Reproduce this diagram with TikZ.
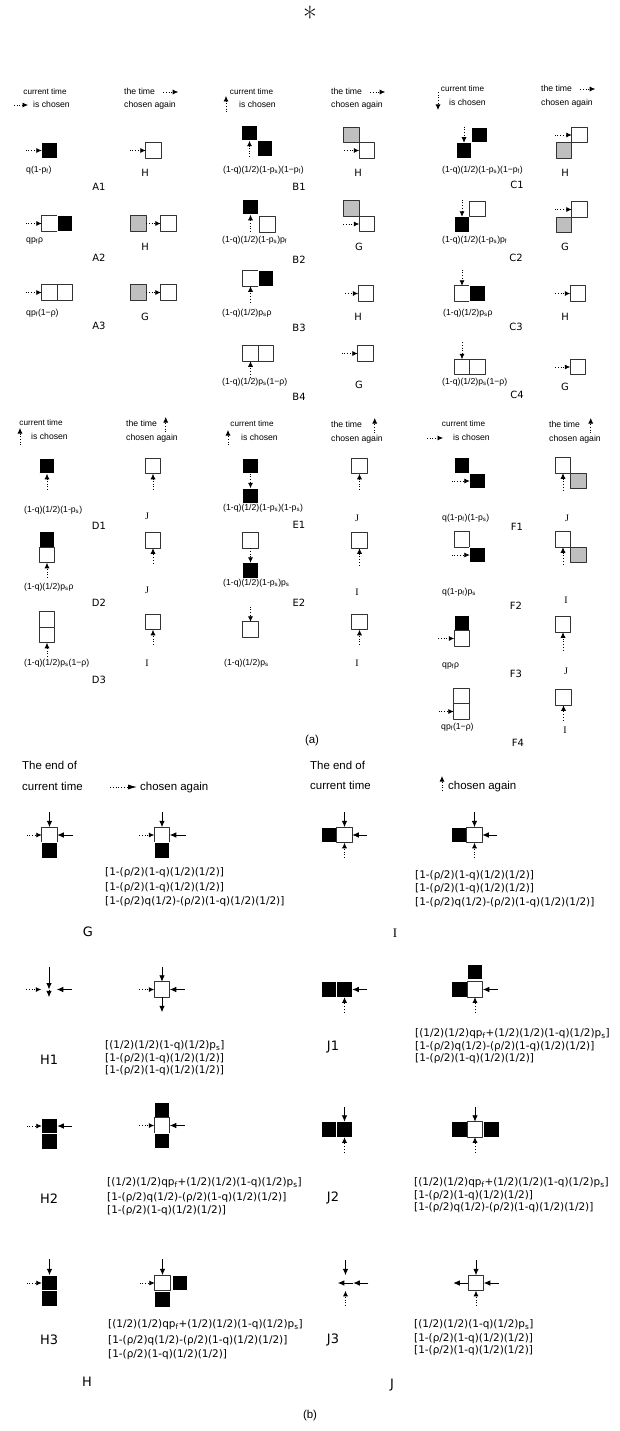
\documentclass[tikz,border=0pt]{standalone}
\usepackage{fontspec}
\usepackage{tikz}
\usetikzlibrary{positioning,arrows.meta}
\newfontfamily\arialf{Liberation Sans}
\newfontfamily\verdf{DejaVu Sans}
\newfontfamily\timesf{Liberation Serif}

\begin{document}
\begin{tikzpicture}[>={Latex[length=5.5bp,width=5bp]}, x=1bp, y=-1bp, line join=bevel,
  sq/.style={draw=black!80, line width=0.8bp, minimum size=15.5bp, inner sep=0pt, outer sep=0pt},
  blk/.style={sq, fill=black, draw=white, line width=0.6bp},
  wht/.style={sq, fill=white},
  gry/.style={sq, fill=black!25},
  darr/.style={->, dotted, line width=0.7bp},
  sarr/.style={-{Latex[length=6.5bp,width=5.5bp]}, line width=0.9bp},
  hdr/.style={font=\arialf\fontsize{8.2}{9}\selectfont, inner sep=0pt, text height=6bp, text depth=1.5bp},
  prb/.style={hdr, anchor=west, font=\arialf\fontsize{8.7}{9}\selectfont},
  tag/.style={font=\verdf\fontsize{10}{12}\selectfont, inner sep=0pt},
  stag/.style={font=\timesf\fontsize{10}{12}\selectfont, inner sep=0pt},
  big/.style={font=\arialf\fontsize{11.5}{13}\selectfont, inner sep=0pt, text height=8.5bp, text depth=2bp},
  frm/.style={font=\verdf\fontsize{10.5}{12}\selectfont, inner sep=0pt, anchor=west, text height=8bp, text depth=2.5bp},
  btag/.style={font=\verdf\fontsize{13}{15}\selectfont, inner sep=0pt},
]
  \useasboundingbox (0,0) rectangle (620,1431);
  \node[font=\fontsize{30}{30}\selectfont, inner sep=0pt] (star) at (310,17) {*};

  %% ---------------- (a) ----------------
  % Column: A
  \node[hdr] (Acur) at (45,92) {current time};
  \node[prb] (Achs) at (33,105) {is chosen};
  \draw[darr] ([xshift=-19bp]Achs.west) -- ([xshift=-5bp]Achs.west);
  \node[prb] (Atim) at (124,92) {the time};
  \draw[darr] ([xshift=8bp]Atim.east) -- ([xshift=23bp]Atim.east);
  \node[prb] (Aagn) at (124,105) {chosen again};
  % Case: A1
  \node[blk] (A1l) at (49.5,150.5) {};
  \draw[darr] ([xshift=-16bp]A1l.west) -- (A1l.west);
  \node[prb] (A1p) at (26,170) {q(1-p\textsubscript{f})};
  \node[wht] (A1r) at (153.5,150.5) {};
  \draw[darr] ([xshift=-16bp]A1r.west) -- (A1r.west);
  \node[tag] (A1n) at (145,173) {H};
  \node[tag] (A1t) at (99,187) {A1};
  % Case: A2
  \node[wht] (A2l) at (49.5,223.5) {};
  \node[blk, right=0bp of A2l] (A2m) {};
  \draw[darr] ([xshift=-16bp]A2l.west) -- (A2l.west);
  \node[prb] (A2p) at (26,240) {qp\textsubscript{f}ρ};
  \node[gry] (A2g) at (138.5,223.5) {};
  \node[wht] (A2r) at (168.5,223.5) {};
  \draw[darr] (A2g) -- (A2r);
  \node[tag] (A2n) at (145,247) {H};
  \node[tag] (A2t) at (99,258) {A2};
  % Case: A3
  \node[wht] (A3l) at (49.5,292.5) {};
  \node[wht, right=0bp of A3l] (A3m) {};
  \draw[darr] ([xshift=-16bp]A3l.west) -- (A3l.west);
  \node[prb] (A3p) at (26,313) {qp\textsubscript{f}(1−ρ)};
  \node[gry] (A3g) at (138.5,292.5) {};
  \node[wht] (A3r) at (168.5,292.5) {};
  \draw[darr] (A3g) -- (A3r);
  \node[tag] (A3n) at (145,317) {G};
  \node[tag] (A3t) at (99,326) {A3};

  % Column: B
  \node[hdr] (Bcur) at (251.5,92) {current time};
  \node[prb] (Bchs) at (239,105) {is chosen};
  \draw[darr] ([xshift=-13bp,yshift=-7bp]Bchs.west) -- ([xshift=-13bp,yshift=9bp]Bchs.west);
  \node[prb] (Btim) at (331,92) {the time};
  \draw[darr] ([xshift=8bp]Btim.east) -- ([xshift=23bp]Btim.east);
  \node[prb] (Bagn) at (331,105) {chosen again};
  % Case: B1
  \node[blk] (B1a) at (249.5,133) {};
  \node[blk, below right=0bp of B1a] (B1b) {};
  \draw[darr] ([yshift=-16bp]B1a.south) -- (B1a.south);
  \node[prb] (B1p) at (223,170) {(1-q)(1/2)(1-p\textsubscript{s})(1−p\textsubscript{f})};
  \node[gry] (B1g) at (351.5,135) {};
  \node[wht, below right=0bp of B1g] (B1r) {};
  \draw[darr] ([xshift=-15bp]B1r.west) -- (B1r.west);
  \node[tag] (B1n) at (358,173) {H};
  \node[tag] (B1t) at (299,187) {B1};
  % Case: B2
  \node[blk] (B2a) at (250.5,207) {};
  \node[wht] (B2b) at (267.5,224.5) {};
  \draw[darr] ([yshift=-17bp]B2a.south) -- (B2a.south);
  \node[prb] (B2p) at (222,240) {(1-q)(1/2)(1-p\textsubscript{s})p\textsubscript{f}};
  \node[gry] (B2g) at (351.5,208.5) {};
  \node[wht, below right=0bp of B2g] (B2r) {};
  \draw[darr] ([xshift=-16bp]B2r.west) -- (B2r.west);
  \node[tag] (B2n) at (359,247) {G};
  \node[tag] (B2t) at (299,260) {B2};
  % Case: B3
  \node[wht] (B3a) at (250.5,278.5) {};
  \node[blk, right=0bp of B3a] (B3b) {};
  \draw[darr] ([yshift=-16bp]B3a.south) -- (B3a.south);
  \node[prb] (B3p) at (222,313) {(1-q)(1/2)p\textsubscript{s}ρ};
  \node[wht] (B3r) at (366,293.5) {};
  \draw[darr] ([xshift=-13bp]B3r.west) -- (B3r.west);
  \node[tag] (B3n) at (358,317) {H};
  \node[tag] (B3t) at (299,328) {B3};
  % Case: B4
  \node[wht] (B4a) at (250.5,353.5) {};
  \node[wht, right=0bp of B4a] (B4b) {};
  \draw[darr] ([yshift=-16bp]B4a.south) -- (B4a.south);
  \node[prb] (B4p) at (222,382) {(1-q)(1/2)p\textsubscript{s}(1−ρ)};
  \node[wht] (B4r) at (365.5,353.5) {};
  \draw[darr] ([xshift=-16bp]B4r.west) -- (B4r.west);
  \node[tag] (B4n) at (359,385) {G};
  \node[tag] (B4t) at (299,397) {B4};

  % Column: C
  \node[hdr] (Ccur) at (462.5,89) {current time};
  \node[prb] (Cchs) at (449,103) {is chosen};
  \draw[darr] ([xshift=-11bp,yshift=11bp]Cchs.west) -- ([xshift=-11bp,yshift=-7bp]Cchs.west);
  \node[prb] (Ctim) at (541,89) {the time};
  \draw[darr] ([xshift=8bp]Ctim.east) -- ([xshift=23bp]Ctim.east);
  \node[prb] (Cagn) at (541,103) {chosen again};
  % Case: C1
  \node[blk] (C1a) at (479.5,135) {};
  \node[blk, below left=0bp of C1a] (C1b) {};
  \draw[darr] ([yshift=16bp]C1b.north) -- (C1b.north);
  \node[prb] (C1p) at (442,170) {(1-q)(1/2)(1-p\textsubscript{s})(1−p\textsubscript{f})};
  \node[wht] (C1r) at (579.5,135) {};
  \node[gry, below left=0bp of C1r] (C1g) {};
  \draw[darr] ([xshift=-17bp]C1r.west) -- (C1r.west);
  \node[tag] (C1n) at (565,173) {H};
  \node[tag] (C1t) at (517,185) {C1};
  % Case: C2
  \node[blk] (C2b) at (462,224.5) {};
  \node[wht, above right=0bp of C2b] (C2a) {};
  \draw[darr] ([yshift=17bp]C2b.north) -- (C2b.north);
  \node[prb] (C2p) at (442,240) {(1-q)(1/2)(1-p\textsubscript{s})p\textsubscript{f}};
  \node[wht] (C2r) at (579.5,209.5) {};
  \node[gry, below left=0bp of C2r] (C2g) {};
  \draw[darr] ([xshift=-17bp]C2r.west) -- (C2r.west);
  \node[tag] (C2n) at (565,247) {G};
  \node[tag] (C2t) at (516,258) {C2};
  % Case: C3
  \node[wht] (C3a) at (462,293.5) {};
  \node[blk, right=0bp of C3a] (C3b) {};
  \draw[darr] ([yshift=16bp]C3a.north) -- (C3a.north);
  \node[prb] (C3p) at (443,313) {(1-q)(1/2)p\textsubscript{s}ρ};
  \node[wht] (C3r) at (578,293.5) {};
  \draw[darr] ([xshift=-15bp]C3r.west) -- (C3r.west);
  \node[tag] (C3n) at (565,317) {H};
  \node[tag] (C3t) at (516,327) {C3};
  % Case: C4
  \node[wht] (C4a) at (462,367) {};
  \node[wht, right=0bp of C4a] (C4b) {};
  \draw[darr] ([yshift=17bp]C4a.north) -- (C4a.north);
  \node[prb] (C4p) at (442,382) {(1-q)(1/2)p\textsubscript{s}(1−ρ)};
  \node[wht] (C4r) at (578,367) {};
  \draw[darr] ([xshift=-15bp]C4r.west) -- (C4r.west);
  \node[tag] (C4n) at (565,387) {G};
  \node[tag] (C4t) at (517,395) {C4};

  % Column: D
  \node[hdr] (Dcur) at (41,423) {current time};
  \node[prb] (Dchs) at (31,437) {is chosen};
  \draw[darr] ([xshift=-11bp,yshift=-8bp]Dchs.west) -- ([xshift=-11bp,yshift=9bp]Dchs.west);
  \node[prb] (Dtim) at (126,424) {the time};
  \draw[darr] ([xshift=8.5bp,yshift=-8bp]Dtim.east) -- ([xshift=8.5bp,yshift=7bp]Dtim.east);
  \node[prb] (Dagn) at (126,438) {chosen again};
  % Case: D1
  \node[blk] (D1l) at (47,466) {};
  \draw[darr] ([yshift=-16bp]D1l.south) -- (D1l.south);
  \node[prb] (D1p) at (24,510) {(1-q)(1/2)(1-p\textsubscript{s})};
  \node[wht] (D1r) at (153,466) {};
  \draw[darr] ([yshift=-16bp]D1r.south) -- (D1r.south);
  \node[stag] (D1n) at (147,516) {J};
  \node[tag] (D1t) at (99,526) {D1};
  % Case: D2
  \node[blk] (D2a) at (47,539.5) {};
  \node[wht, below=0bp of D2a] (D2b) {};
  \draw[darr] ([yshift=-15bp]D2b.south) -- (D2b.south);
  \node[prb] (D2p) at (24,587) {(1-q)(1/2)p\textsubscript{s}ρ};
  \node[wht] (D2r) at (153,540.5) {};
  \draw[darr] ([yshift=-15bp]D2r.south) -- (D2r.south);
  \node[stag] (D2n) at (147,590) {J};
  \node[tag] (D2t) at (99,603) {D2};
  % Case: D3
  \node[wht] (D3a) at (47,619.5) {};
  \node[wht, below=0bp of D3a] (D3b) {};
  \draw[darr] ([yshift=-14bp]D3b.south) -- (D3b.south);
  \node[prb] (D3p) at (24,663) {(1-q)(1/2)p\textsubscript{s}(1−ρ)};
  \node[wht] (D3r) at (153,622) {};
  \draw[darr] ([yshift=-15bp]D3r.south) -- (D3r.south);
  \node[stag] (D3n) at (147,663) {I};
  \node[tag] (D3t) at (99,680) {D3};

  % Column: E
  \node[hdr] (Ecur) at (252,424) {current time};
  \node[prb] (Echs) at (241,438) {is chosen};
  \draw[darr] ([xshift=-13bp,yshift=-7bp]Echs.west) -- ([xshift=-13bp,yshift=8bp]Echs.west);
  \node[prb] (Etim) at (331,425) {the time};
  \draw[darr] ([xshift=12.5bp,yshift=-8bp]Etim.east) -- ([xshift=12.5bp,yshift=7bp]Etim.east);
  \node[prb] (Eagn) at (331,439) {chosen again};
  % Case: E1
  \node[blk] (E1a) at (250.5,466) {};
  \node[blk] (E1b) at (250.5,496) {};
  \draw[darr] (E1a) -- (E1b);
  \node[prb] (E1p) at (223,508) {(1-q)(1/2)(1-p\textsubscript{s})(1-p\textsubscript{s})};
  \node[wht] (E1r) at (359.5,466) {};
  \draw[darr] ([yshift=-16bp]E1r.south) -- (E1r.south);
  \node[stag] (E1n) at (357,518) {J};
  \node[tag] (E1t) at (299,525) {E1};
  % Case: E2
  \node[wht] (E2a) at (250.5,540.5) {};
  \node[blk] (E2b) at (250.5,570.5) {};
  \draw[darr] (E2a) -- (E2b);
  \node[prb] (E2p) at (223,583) {(1-q)(1/2)(1-p\textsubscript{s})p\textsubscript{s}};
  \node[wht] (E2r) at (359.5,540.5) {};
  \draw[darr] ([yshift=-17bp]E2r.south) -- (E2r.south);
  \node[stag] (E2n) at (357,592) {I};
  \node[tag] (E2t) at (299,603) {E2};
  % Case: E3
  \node[wht] (E3a) at (250.5,629.5) {};
  \draw[darr] ([yshift=15bp]E3a.north) -- (E3a.north);
  \node[prb] (E3p) at (224,663) {(1-q)(1/2)p\textsubscript{s}};
  \node[wht] (E3r) at (359.5,622) {};
  \draw[darr] ([yshift=-15bp]E3r.south) -- (E3r.south);
  \node[stag] (E3n) at (357,663) {I};

  % Column: F
  \node[hdr] (Fcur) at (463.5,424) {current time};
  \node[prb] (Fchs) at (453,438) {is chosen};
  \draw[darr] ([xshift=-26bp]Fchs.west) -- ([xshift=-10bp]Fchs.west);
  \node[prb] (Ftim) at (549,425) {the time};
  \draw[darr] ([xshift=10.5bp,yshift=-8bp]Ftim.east) -- ([xshift=10.5bp,yshift=7bp]Ftim.east);
  \node[prb] (Fagn) at (549,439) {chosen again};
  % Case: F1
  \node[blk] (F1a) at (462,465.5) {};
  \node[blk, below right=0bp of F1a] (F1b) {};
  \draw[darr] ([xshift=-18bp]F1b.west) -- (F1b.west);
  \node[prb] (F1p) at (442,518) {q(1-p\textsubscript{f})(1-p\textsubscript{s})};
  \node[wht] (F1r) at (563,465.5) {};
  \node[gry, below right=0bp of F1r] (F1g) {};
  \draw[darr] ([yshift=-17bp]F1r.south) -- (F1r.south);
  \node[stag] (F1n) at (567,518) {J};
  \node[tag] (F1t) at (517,527) {F1};
  % Case: F2
  \node[wht] (F2a) at (462,539.5) {};
  \node[blk, below right=0bp of F2a] (F2b) {};
  \draw[darr] ([xshift=-18bp]F2b.west) -- (F2b.west);
  \node[prb] (F2p) at (442,592) {q(1-p\textsubscript{f})p\textsubscript{s}};
  \node[wht] (F2r) at (563,539.5) {};
  \node[gry, below right=0bp of F2r] (F2g) {};
  \draw[darr] ([yshift=-17bp]F2r.south) -- (F2r.south);
  \node[stag] (F2n) at (566,600) {I};
  \node[tag] (F2t) at (516,606) {F2};
  % Case: F3
  \node[blk] (F3a) at (462,623) {};
  \node[wht, below=0bp of F3a] (F3b) {};
  \draw[darr] ([xshift=-16bp]F3b.west) -- (F3b.west);
  \node[prb] (F3p) at (442,665) {qp\textsubscript{f}ρ};
  \node[wht] (F3r) at (563,624.5) {};
  \draw[darr] ([yshift=-18bp]F3r.south) -- (F3r.south);
  \node[stag] (F3n) at (566,671) {J};
  \node[tag] (F3t) at (516,674) {F3};
  % Case: F4
  \node[wht] (F4a) at (461.5,696) {};
  \node[wht, below=0bp of F4a] (F4b) {};
  \draw[darr] ([xshift=-15bp]F4b.west) -- (F4b.west);
  \node[prb] (F4p) at (441,727) {qp\textsubscript{f}(1−ρ)};
  \node[wht] (F4r) at (563.5,697.5) {};
  \draw[darr] ([yshift=-15bp]F4r.south) -- (F4r.south);
  \node[stag] (F4n) at (565,730) {I};
  \node[tag] (F4t) at (518,743) {F4};

  \node[big] (capa) at (312,740) {(a)};

  %% ---------------- (b) ----------------
  % Header: G / H
  \node[big, anchor=west] (Gend) at (22,766) {The end of};
  \node[big, anchor=west] (Gcur) at (22,787) {current time};
  \node[big, anchor=west] (Gagn) at (140,787) {chosen again};
  \draw[darr, line width=0.8bp, -{Latex[length=9bp,width=5bp]}] ([xshift=-30bp]Gagn.west) -- ([xshift=-3bp]Gagn.west);
  % Header: I / J
  \node[big, anchor=west] (Iend) at (310,766) {The end of};
  \node[big, anchor=west] (Icur) at (310,786) {current time};
  \node[big, anchor=west] (Iagn) at (448,786) {chosen again};
  \draw[darr, line width=0.8bp] ([xshift=-6bp,yshift=-5bp]Iagn.west) -- ([xshift=-6bp,yshift=10bp]Iagn.west);

  % Case: G
  \node[wht] (GLw) at (49.5,835) {};
  \node[blk, below=0bp of GLw] (GLb) {};
  \draw[sarr] ([yshift=15bp]GLw.north) -- (GLw.north);
  \draw[darr] ([xshift=-15bp]GLw.west) -- (GLw.west);
  \draw[sarr] ([xshift=16bp]GLw.east) -- (GLw.east);
  \node[wht] (GRw) at (162,835) {};
  \node[blk, below=0bp of GRw] (GRb) {};
  \draw[sarr] ([yshift=15bp]GRw.north) -- (GRw.north);
  \draw[darr] ([xshift=-15bp]GRw.west) -- (GRw.west);
  \draw[sarr] ([xshift=16bp]GRw.east) -- (GRw.east);
  \node[frm] (Gf1) at (105,873) {[1-(ρ/2)(1-q)(1/2)(1/2)]};
  \node[frm] (Gf2) at (105,888) {[1-(ρ/2)(1-q)(1/2)(1/2)]};
  \node[frm] (Gf3) at (105,902) {[1-(ρ/2)q(1/2)-(ρ/2)(1-q)(1/2)(1/2)]};
  \node[btag] (Gn) at (88,932) {G};

  % Case: I
  \node[blk] (ILb) at (329,835) {};
  \node[wht, right=0bp of ILb] (ILw) {};
  \draw[sarr] ([yshift=15bp]ILw.north) -- (ILw.north);
  \draw[sarr] ([xshift=15bp]ILw.east) -- (ILw.east);
  \draw[darr] ([yshift=-15bp]ILw.south) -- (ILw.south);
  \node[blk] (IRb) at (459,835) {};
  \node[wht, right=0bp of IRb] (IRw) {};
  \draw[sarr] ([yshift=15bp]IRw.north) -- (IRw.north);
  \draw[sarr] ([xshift=15bp]IRw.east) -- (IRw.east);
  \draw[darr] ([yshift=-15bp]IRw.south) -- (IRw.south);
  \node[frm] (If1) at (415,876) {[1-(ρ/2)(1-q)(1/2)(1/2)]};
  \node[frm] (If2) at (415,889) {[1-(ρ/2)(1-q)(1/2)(1/2)]};
  \node[frm] (If3) at (415,903) {[1-(ρ/2)q(1/2)-(ρ/2)(1-q)(1/2)(1/2)]};
  \node[btag, font=\timesf\fontsize{13}{15}\selectfont] (In) at (395,933) {I};

  % Case: H1
  \node[sq, draw=none] (H1Le) at (49,989.5) {};
  \draw[sarr] ([yshift=15bp]H1Le.north) -- (H1Le.center);
  \draw[sarr] (H1Le.center) -- (H1Le.south);
  \draw[darr] ([xshift=-15bp]H1Le.west) -- (H1Le.west);
  \draw[sarr] ([xshift=15bp]H1Le.east) -- (H1Le.east);
  \node[wht] (H1Rw) at (162,989.5) {};
  \draw[sarr] ([yshift=15bp]H1Rw.north) -- (H1Rw.north);
  \draw[sarr] (H1Rw.south) -- ([yshift=-15bp]H1Rw.south);
  \draw[darr] ([xshift=-15bp]H1Rw.west) -- (H1Rw.west);
  \draw[sarr] ([xshift=15bp]H1Rw.east) -- (H1Rw.east);
  \node[frm] (H1f1) at (105,1046) {[(1/2)(1/2)(1-q)(1/2)p\textsubscript{s}]};
  \node[frm] (H1f2) at (105,1059) {[1-(ρ/2)(1-q)(1/2)(1/2)]};
  \node[frm] (H1f3) at (105,1071) {[1-(ρ/2)(1-q)(1/2)(1/2)]};
  \node[btag] (H1t) at (49,1060) {H1};

  % Case: H2
  \node[blk] (H2La) at (49.5,1126) {};
  \node[blk, below=0bp of H2La] (H2Lb) {};
  \draw[darr] ([xshift=-15bp]H2La.west) -- (H2La.west);
  \draw[sarr] ([xshift=15bp]H2La.east) -- (H2La.east);
  \node[blk] (H2Ra) at (162,1110) {};
  \node[wht, below=0bp of H2Ra] (H2Rw) {};
  \node[blk, below=0bp of H2Rw] (H2Rb) {};
  \draw[darr] ([xshift=-15bp]H2Rw.west) -- (H2Rw.west);
  \draw[sarr] ([xshift=15bp]H2Rw.east) -- (H2Rw.east);
  \node[frm] (H2f1) at (107,1183) {[(1/2)(1/2)qp\textsubscript{f}+(1/2)(1/2)(1-q)(1/2)p\textsubscript{s}]};
  \node[frm] (H2f2) at (107,1198) {[1-(ρ/2)q(1/2)-(ρ/2)(1-q)(1/2)(1/2)]};
  \node[frm] (H2f3) at (107,1211) {[1-(ρ/2)(1-q)(1/2)(1/2)]};
  \node[btag] (H2t) at (49,1199) {H2};

  % Case: H3
  \node[blk] (H3La) at (49.5,1283) {};
  \node[blk, below=0bp of H3La] (H3Lb) {};
  \draw[sarr] ([yshift=16bp]H3La.north) -- (H3La.north);
  \draw[darr] ([xshift=-15bp]H3La.west) -- (H3La.west);
  \node[wht] (H3Rw) at (162.5,1283) {};
  \node[blk, right=2bp of H3Rw] (H3Rc) {};
  \node[blk, below=1bp of H3Rw] (H3Rb) {};
  \draw[sarr] ([yshift=16bp]H3Rw.north) -- (H3Rw.north);
  \draw[darr] ([xshift=-15bp]H3Rw.west) -- (H3Rw.west);
  \node[frm] (H3f1) at (108,1325) {[(1/2)(1/2)qp\textsubscript{f}+(1/2)(1/2)(1-q)(1/2)p\textsubscript{s}]};
  \node[frm] (H3f2) at (108,1341) {[1-(ρ/2)q(1/2)-(ρ/2)(1-q)(1/2)(1/2)]};
  \node[frm] (H3f3) at (108,1355) {[1-(ρ/2)(1-q)(1/2)(1/2)]};
  \node[btag] (H3t) at (49,1340) {H3};
  \node[btag] (Hn) at (87,1382) {H};

  % Case: J1
  \node[blk] (J1La) at (329,989.5) {};
  \node[blk, right=0bp of J1La] (J1Lb) {};
  \draw[sarr] ([xshift=15bp]J1Lb.east) -- (J1Lb.east);
  \draw[darr] ([yshift=-15bp]J1Lb.south) -- (J1Lb.south);
  \node[blk] (J1Ra) at (459.5,989.5) {};
  \node[wht, right=0bp of J1Ra] (J1Rw) {};
  \node[blk, above=2bp of J1Rw] (J1Rb) {};
  \draw[sarr] ([xshift=15bp]J1Rw.east) -- (J1Rw.east);
  \draw[darr] ([yshift=-15bp]J1Rw.south) -- (J1Rw.south);
  \node[frm] (J1f1) at (415,1034) {[(1/2)(1/2)qp\textsubscript{f}+(1/2)(1/2)(1-q)(1/2)p\textsubscript{s}]};
  \node[frm] (J1f2) at (415,1047) {[1-(ρ/2)q(1/2)-(ρ/2)(1-q)(1/2)(1/2)]};
  \node[frm] (J1f3) at (415,1059) {[1-(ρ/2)(1-q)(1/2)(1/2)]};
  \node[btag] (J1t) at (333,1047) {J1};

  % Case: J2
  \node[blk] (J2La) at (329,1129.5) {};
  \node[blk, right=0bp of J2La] (J2Lb) {};
  \draw[sarr] ([yshift=15bp]J2Lb.north) -- (J2Lb.north);
  \draw[darr] ([yshift=-15bp]J2Lb.south) -- (J2Lb.south);
  \node[blk] (J2Ra) at (459.5,1129.5) {};
  \node[wht, right=0bp of J2Ra] (J2Rw) {};
  \node[blk, right=1bp of J2Rw] (J2Rc) {};
  \draw[sarr] ([yshift=15bp]J2Rw.north) -- (J2Rw.north);
  \draw[darr] ([yshift=-15bp]J2Rw.south) -- (J2Rw.south);
  \node[frm] (J2f1) at (414,1183) {[(1/2)(1/2)qp\textsubscript{f}+(1/2)(1/2)(1-q)(1/2)p\textsubscript{s}]};
  \node[frm] (J2f2) at (414,1196) {[1-(ρ/2)(1-q)(1/2)(1/2)]};
  \node[frm] (J2f3) at (414,1208) {[1-(ρ/2)q(1/2)-(ρ/2)(1-q)(1/2)(1/2)]};
  \node[btag] (J2t) at (333,1198) {J2};

  % Case: J3
  \node[sq, draw=none] (J3Le) at (345.5,1283) {};
  \draw[sarr] ([yshift=15bp]J3Le.north) -- (J3Le.north);
  \draw[sarr] ([xshift=15bp]J3Le.east) -- (J3Le.east);
  \draw[sarr] (J3Le.east) -- (J3Le.west);
  \draw[darr] ([yshift=-15bp]J3Le.south) -- (J3Le.south);
  \node[wht] (J3Rw) at (476,1283) {};
  \draw[sarr] ([yshift=15bp]J3Rw.north) -- (J3Rw.north);
  \draw[sarr] ([xshift=15bp]J3Rw.east) -- (J3Rw.east);
  \draw[sarr] (J3Rw.west) -- ([xshift=-15bp]J3Rw.west);
  \draw[darr] ([yshift=-15bp]J3Rw.south) -- (J3Rw.south);
  \node[frm] (J3f1) at (414,1325) {[(1/2)(1/2)(1-q)(1/2)p\textsubscript{s}]};
  \node[frm] (J3f2) at (414,1339) {[1-(ρ/2)(1-q)(1/2)(1/2)]};
  \node[frm] (J3f3) at (414,1351) {[1-(ρ/2)(1-q)(1/2)(1/2)]};
  \node[btag] (J3t) at (333,1340) {J3};
  \node[btag] (Jn) at (392,1385) {J};

  \node[big] (capb) at (310,1415) {(b)};
\end{tikzpicture}
\end{document}
